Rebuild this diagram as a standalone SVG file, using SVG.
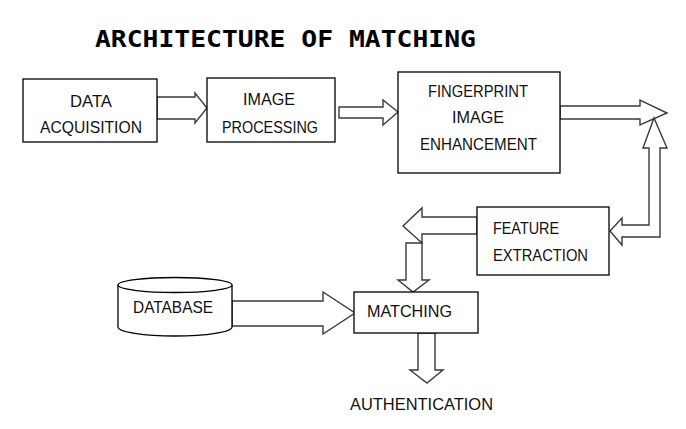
<svg xmlns="http://www.w3.org/2000/svg" width="686" height="429" viewBox="0 0 686 429">
<style>
.box{fill:#fff;stroke:#000;stroke-width:1.3}
.arr{fill:#fff;stroke:#3a3a3a;stroke-width:1.4;stroke-linejoin:miter}
.t{font-family:"Liberation Sans",Arial,sans-serif;font-size:17px;fill:#111}
.title{font-family:"DejaVu Sans Mono","Liberation Mono",monospace;font-weight:bold;font-size:23.5px;fill:#000}
</style>
<rect width="686" height="429" fill="#fff"/>
<text class="title" x="95" y="47" textLength="381" lengthAdjust="spacingAndGlyphs">ARCHITECTURE OF MATCHING</text>

<g id="connectors">
<polygon class="arr" points="157,97 195,97 195,93 207,108 195,123 195,119 157,119"/>
<polygon class="arr" points="339,107 383,107 383,100 398,112 383,125 383,118 339,118"/>
<polygon class="arr" points="560,106 640,106 640,100 667,113 640,125 640,119 560,119"/>
<polygon class="arr" points="654,118 667,148 660,148 660,237 622,237 622,245 610,231 622,218 622,225 649,225 649,148 643,148"/>
<polygon class="arr" points="477,217 422,217 422,208 403,226 422,243 422,234 477,234"/>
<polygon class="arr" points="406,243 422,243 422,280 429,280 413,292 398,280 406,280"/>
<polygon class="arr" points="232,301 323,301 323,292 355,313 323,334 323,326 232,326"/>
<polygon class="arr" points="418,333 435,333 435,370 443,370 427,383 410,370 418,370"/>
</g>

<g id="data-acquisition">
<rect class="box" x="23" y="79" width="134" height="63"/>
<text class="t" x="70" y="107" textLength="42" lengthAdjust="spacingAndGlyphs">DATA</text>
<text class="t" x="40" y="133" textLength="102" lengthAdjust="spacingAndGlyphs">ACQUISITION</text>
</g>
<g id="image-processing">
<rect class="box" x="207" y="78" width="128" height="64"/>
<text class="t" x="243" y="105" textLength="52" lengthAdjust="spacingAndGlyphs">IMAGE</text>
<text class="t" x="222" y="133" textLength="96" lengthAdjust="spacingAndGlyphs">PROCESSING</text>
</g>
<g id="fingerprint-image-enhancement">
<rect class="box" x="398" y="72" width="162" height="101"/>
<text class="t" x="428" y="97" textLength="100" lengthAdjust="spacingAndGlyphs">FINGERPRINT</text>
<text class="t" x="452" y="123" textLength="52" lengthAdjust="spacingAndGlyphs">IMAGE</text>
<text class="t" x="420" y="150" textLength="117" lengthAdjust="spacingAndGlyphs">ENHANCEMENT</text>
</g>
<g id="feature-extraction">
<rect class="box" x="477" y="207" width="132" height="68"/>
<text class="t" x="493" y="234" textLength="66" lengthAdjust="spacingAndGlyphs">FEATURE</text>
<text class="t" x="493" y="261" textLength="95" lengthAdjust="spacingAndGlyphs">EXTRACTION</text>
</g>
<g id="database">
<path class="box" d="M118,285 L118,327 A57,9 0 0 0 232,327 L232,285"/>
<ellipse class="box" cx="175" cy="285" rx="57" ry="7.5"/>
<text class="t" x="133" y="313" textLength="80" lengthAdjust="spacingAndGlyphs">DATABASE</text>
</g>
<g id="matching">
<rect class="box" x="354" y="292" width="124" height="41"/>
<text class="t" x="367" y="317" textLength="85" lengthAdjust="spacingAndGlyphs">MATCHING</text>
</g>
<g id="authentication">
<text class="t" x="350" y="410" textLength="143" lengthAdjust="spacingAndGlyphs">AUTHENTICATION</text>
</g>
</svg>
